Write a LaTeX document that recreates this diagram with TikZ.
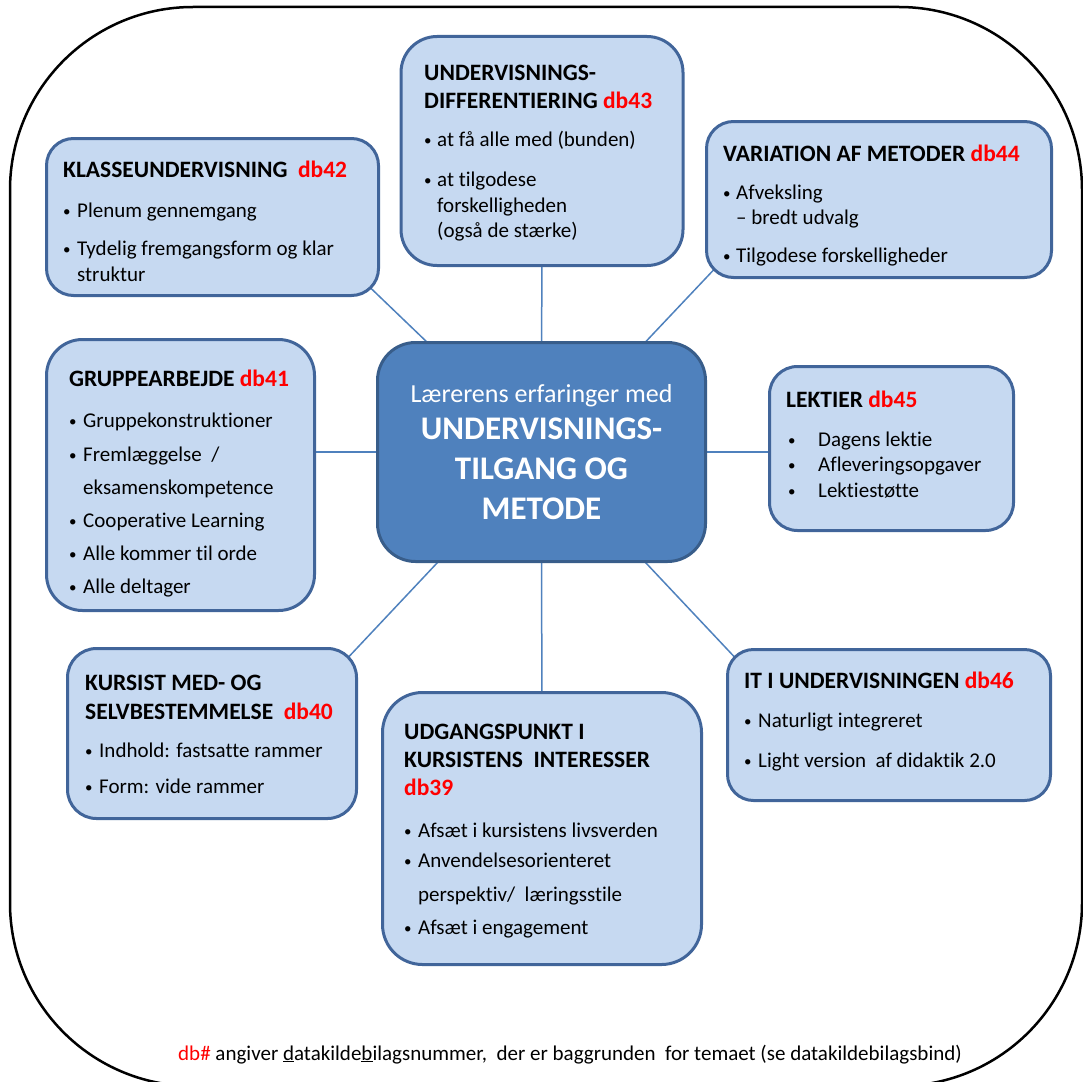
\documentclass[tikz,border=0pt]{standalone}
\usepackage{fontspec}
\setmainfont{Carlito}[Ligatures={NoCommon}]
\usetikzlibrary{backgrounds}
\definecolor{boxfill}{HTML}{C6D9F1}
\definecolor{boxline}{HTML}{41659A}
\definecolor{hubfill}{HTML}{4F81BD}
\definecolor{hubline}{HTML}{385D8A}
\definecolor{linkcol}{HTML}{4F81BD}
\definecolor{dbred}{HTML}{FF0000}
\newcommand\smalldot{\raisebox{0.8pt}{\fontsize{15}{15}\selectfont\textbullet}}
\newcommand\itembullet[1][14pt]{\makebox[#1][l]{\smalldot}}
\newcommand\db[1]{\textcolor{dbred}{#1}}
\tikzset{
  box/.style={draw=boxline, fill=boxfill, line width=3pt, rounded corners=#1, inner sep=0pt},
  hubbox/.style={draw=hubline, fill=hubfill, line width=3pt, rounded corners=38pt, inner sep=0pt},
  link/.style={draw=linkcol, line width=1.5pt},
  ttl/.style={anchor=base west, inner sep=0pt, font=\fontsize{23.5}{28}\selectfont\bfseries},
  itm/.style={anchor=base west, inner sep=0pt, font=\fontsize{21}{25}\selectfont},
  hubsmall/.style={anchor=base, inner sep=0pt, text=white, font=\fontsize{26}{30}\selectfont},
  hubbig/.style={anchor=base, inner sep=0pt, text=white, font=\fontsize{33}{38}\selectfont\bfseries},
}
\begin{document}
\begin{tikzpicture}[x=1pt,y=-1pt]
\useasboundingbox (0,0) rectangle (1083,1081);
% outer frame
\draw[line width=2.5pt, rounded corners=183pt] (10,7) rectangle (1082,1086);

% central hub
\node[hubbox, minimum width=328pt, minimum height=219pt] (hub) at (541.5,452) {};

% surrounding theme boxes
\node[box=27pt, minimum width=332pt, minimum height=157pt] (k1) at (212.5,217) {};
\node[box=36pt, minimum width=282pt, minimum height=229pt] (k2) at (542,151) {};
\node[box=27pt, minimum width=345pt, minimum height=156pt] (k3) at (879,199.5) {};
\node[box=28pt, minimum width=244pt, minimum height=164pt] (k4) at (891.5,448.5) {};
\node[box=36pt, minimum width=268pt, minimum height=271pt] (k5) at (180.5,475) {};
\node[box=29pt, minimum width=289pt, minimum height=170pt] (k7) at (212,733.5) {};
\node[box=40pt, minimum width=319pt, minimum height=272pt] (k8) at (542,828.5) {};
\node[box=26pt, minimum width=323pt, minimum height=151pt] (k9) at (889,725) {};

% connectors, behind the boxes
\begin{pgfonlayer}{background}
\draw[link, shorten >=-20pt] (hub.center) -- (k1.south east);
\draw[link, shorten >=-20pt] (hub.center) -- (k3.south west);
\draw[link, shorten >=-20pt] (hub.center) -- (k7.north east);
\draw[link, shorten >=-20pt] (hub.center) -- (k9.north west);
\draw[link] (hub.center) -- (k2.center);
\draw[link] (hub.center) -- (k8.center);
\draw[link] (hub.center) -- (hub.center -| k5.east);
\draw[link] (hub.center) -- (hub.center -| k4.west);
\end{pgfonlayer}

% hub text
\node[hubsmall] (h1) at (541.5,402) {Lærerens erfaringer med};
\node[hubbig] (h2) at (541.5,439) {UNDERVISNINGS-};
\node[hubbig] (h3) at (541.5,479) {TILGANG OG};
\node[hubbig] (h4) at (541.5,519) {METODE};

% KLASSEUNDERVISNING
\node[ttl] (k1a) at (63,177) {KLASSEUNDERVISNING\ \ \db{db42}};
\node[itm] (k1b) at (63,217) {\itembullet Plenum\ gennemgang};
\node[itm] (k1c) at (63,255) {\itembullet Tydelig fremgangsform og\ klar};
\node[itm] (k1d) at (63,281) {\hspace*{14pt}struktur};

% UNDERVISNINGSDIFFERENTIERING
\node[ttl] (k2a) at (424,80) {UNDERVISNINGS-};
\node[ttl] (k2b) at (424,108) {DIFFERENTIERING \db{db43}};
\node[itm] (k2c) at (424,146) {\itembullet[13pt]at få alle med (bunden)};
\node[itm] (k2d) at (424,186) {\itembullet[13pt]at tilgodese};
\node[itm] (k2e) at (424,212) {\hspace*{13pt}forskelligheden};
\node[itm] (k2f) at (424,237) {\hspace*{13pt}(også de stærke)};

% VARIATION AF METODER
\node[ttl] (k3a) at (723,161) {VARIATION AF METODER \db{db44}};
\node[itm] (k3b) at (723,199) {\itembullet[13pt]Afveksling};
\node[itm] (k3c) at (723,224) {\hspace*{13pt}-- bredt udvalg};
\node[itm] (k3d) at (723,262) {\itembullet[13pt]Tilgodese forskelligheder};

% LEKTIER
\node[ttl] (k4a) at (786,407) {LEKTIER \db{db45}};
\node[itm] (k4b) at (788,446) {\itembullet[30pt]Dagens lektie};
\node[itm] (k4c) at (788,471) {\itembullet[30pt]Afleveringsopgaver};
\node[itm] (k4d) at (788,497) {\itembullet[30pt]Lektiestøtte};

% GRUPPEARBEJDE
\node[ttl] (k5a) at (69,386) {GRUPPEARBEJDE \db{db41}};
\node[itm] (k5b) at (69,427) {\itembullet Gruppekonstruktioner};
\node[itm] (k5c) at (69,461) {\itembullet Fremlæggelse\ \ /};
\node[itm] (k5d) at (69,494) {\hspace*{14pt}eksamenskompetence};
\node[itm] (k5e) at (69,527) {\itembullet Cooperative Learning};
\node[itm] (k5f) at (69,560) {\itembullet Alle kommer til orde};
\node[itm] (k5g) at (69,593) {\itembullet Alle deltager};

% KURSIST MED- OG SELVBESTEMMELSE
\node[ttl] (k7a) at (85,690) {KURSIST MED- OG};
\node[ttl] (k7b) at (85,719) {SELVBESTEMMELSE\ \ \db{db40}};
\node[itm] (k7c) at (85,757) {\itembullet Indhold: fastsatte rammer};
\node[itm] (k7d) at (85,793) {\itembullet Form: vide rammer};

% UDGANGSPUNKT I KURSISTENS INTERESSER
\node[ttl] (k8a) at (404,739) {UDGANGSPUNKT I};
\node[ttl] (k8b) at (404,767) {KURSISTENS\ \ INTERESSER};
\node[ttl] (k8c) at (404,795) {\db{db39}};
\node[itm] (k8d) at (404,837) {\itembullet Afsæt i kursistens\ livsverden};
\node[itm] (k8e) at (404,867) {\itembullet Anvendelsesorienteret};
\node[itm] (k8f) at (404,901) {\hspace*{14pt}perspektiv/\ \ læringsstile};
\node[itm] (k8g) at (404,934) {\itembullet Afsæt i engagement};

% IT I UNDERVISNINGEN
\node[ttl] (k9a) at (744,688) {IT I UNDERVISNINGEN \db{db46}};
\node[itm] (k9b) at (744,727) {\itembullet Naturligt integreret};
\node[itm] (k9c) at (744,767) {\itembullet Light version\ \ af didaktik 2.0};

% footnote
\node[anchor=base west, inner sep=0pt, font=\fontsize{21}{25}\selectfont] (note) at (178,1060)
  {\db{db\#} angiver \underline{d}atakilde\underline{b}ilagsnummer,\ \ der er baggrunden\ \ for temaet (se datakildebilagsbind)};
\end{tikzpicture}
\end{document}
